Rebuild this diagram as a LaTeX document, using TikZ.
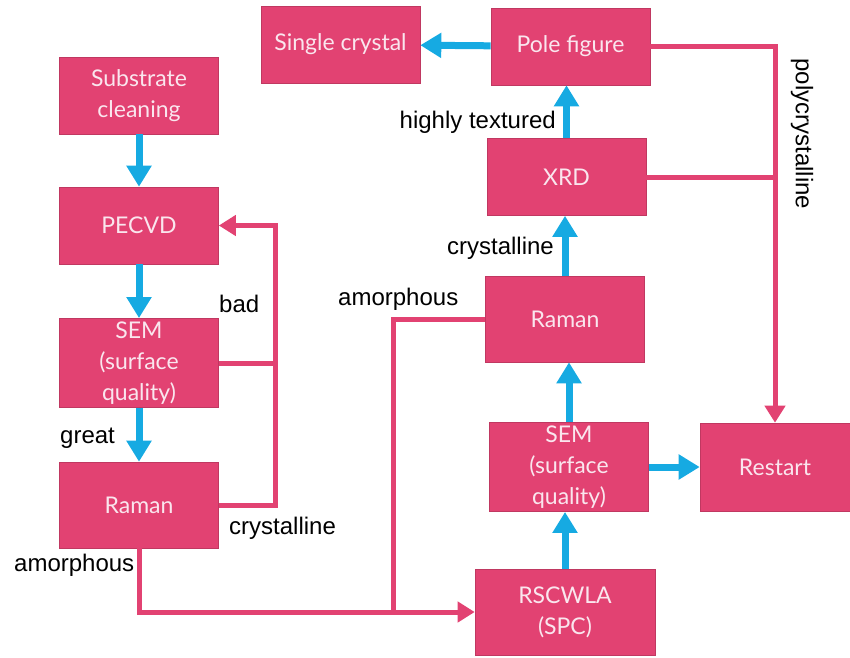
\documentclass[tikz,border=0pt]{standalone}
\usepackage{fontspec}
\setmainfont{Liberation Sans}
\newfontfamily\boxfont{Lato}
\usepackage{tikz}
\usetikzlibrary{positioning,arrows.meta}
\tikzset{
  >={Triangle},
  stepbox/.style={fill=rose, draw=rose!85!black, line width=0.6pt,
    minimum width=159pt, minimum height=77pt, align=center,
    text=paper, font=\boxfont\fontsize{23}{31}\selectfont},
  lbl/.style   ={font=\fontsize{24}{28}\selectfont, inner sep=0pt},
  flow/.style  ={draw=sky, line width=7pt, -{Triangle[width=24pt,length=21pt]}},
  back/.style  ={draw=rose, line width=5pt, -{Triangle[width=20pt,length=17pt]}},
  link/.style  ={draw=rose, line width=5pt},
}
\definecolor{rose}{RGB}{226,66,114}
\definecolor{sky}{RGB}{22,170,226}
\definecolor{paper}{RGB}{250,230,238}

\begin{document}
\begin{tikzpicture}[x=1pt, y=-1pt]
  \useasboundingbox (0,0) rectangle (850,657);

  % ---------- Left column: deposition ----------
  \node[stepbox] (clean) at (139,95.5) {Substrate\\cleaning};
  \node[stepbox] (pecvd) at (139,225.5) {PECVD};
  \node[stepbox, minimum height=86pt] (semL) at (139,363) {SEM\\(surface\\quality)};
  \node[stepbox, minimum height=86pt] (ramanL) at (139,505) {Raman};

  % ---------- Right column: crystallisation ----------
  \node[stepbox] (single) at (340.5,44.5) {Single crystal};
  \node[stepbox] (pole) at (570.5,46.5) {Pole figure};
  \node[stepbox] (xrd) at (566.5,177) {XRD};
  \node[stepbox, minimum height=86pt] (ramanR) at (565,319) {Raman};
  \node[stepbox, minimum height=88pt] (semR) at (569,467) {SEM\\(surface\\quality)};
  \node[stepbox, minimum width=150pt, minimum height=88pt] (restart) at (775,467) {Restart};
  \node[stepbox, minimum width=180pt, minimum height=86pt] (rsc) at (565,612) {RSCWLA\\(SPC)};

  % forward steps
  \draw[flow] (clean) -- (pecvd);
  \draw[flow] (pecvd) -- (semL);
  \draw[flow] (semL) -- (ramanL);
  \draw[flow] (rsc.north) -- (rsc.north |- semR.south);
  \draw[flow] (semR.north) -- (semR.north |- ramanR.south);
  \draw[flow] (ramanR.north) -- (ramanR.north |- xrd.south);
  \draw[flow] (xrd.north) -- (xrd.north |- pole.south);
  \draw[flow] (pole) -- (single);
  \draw[flow] (semR) -- (restart);

  % ---------- feedback and side paths ----------
  \coordinate (fb) at (275,225.5);
  \coordinate (amj) at (393,612);
  \draw[back] (ramanL.east) -| (fb) -- (pecvd.east);
  \draw[link] (semL.east) -- (semL.east -| fb);
  \draw[back] (ramanL.south) |- (rsc.west);
  \draw[link] (ramanR.west) -| (amj);
  \draw[back] (pole.east) -| (restart.north);
  \draw[link] (xrd.east) -- (xrd.east -| restart.north);

  % labels
  \node[lbl, anchor=east] (tex) at (556,122) {highly textured};
  \node[lbl, anchor=east] (crysR) at (554,248) {crystalline};
  \node[lbl, anchor=west] (amoR) at (338,299) {amorphous};
  \node[lbl, anchor=west] (bad) at (219,304) {bad};
  \node[lbl, anchor=west] (great) at (60,438) {great};
  \node[lbl, anchor=west] (crysL) at (229,528) {crystalline};
  \node[lbl, anchor=west] (amoL) at (14,565) {amorphous};
  \node[lbl, rotate=-90] (poly) at (802,134) {polycrystalline};
\end{tikzpicture}
\end{document}
